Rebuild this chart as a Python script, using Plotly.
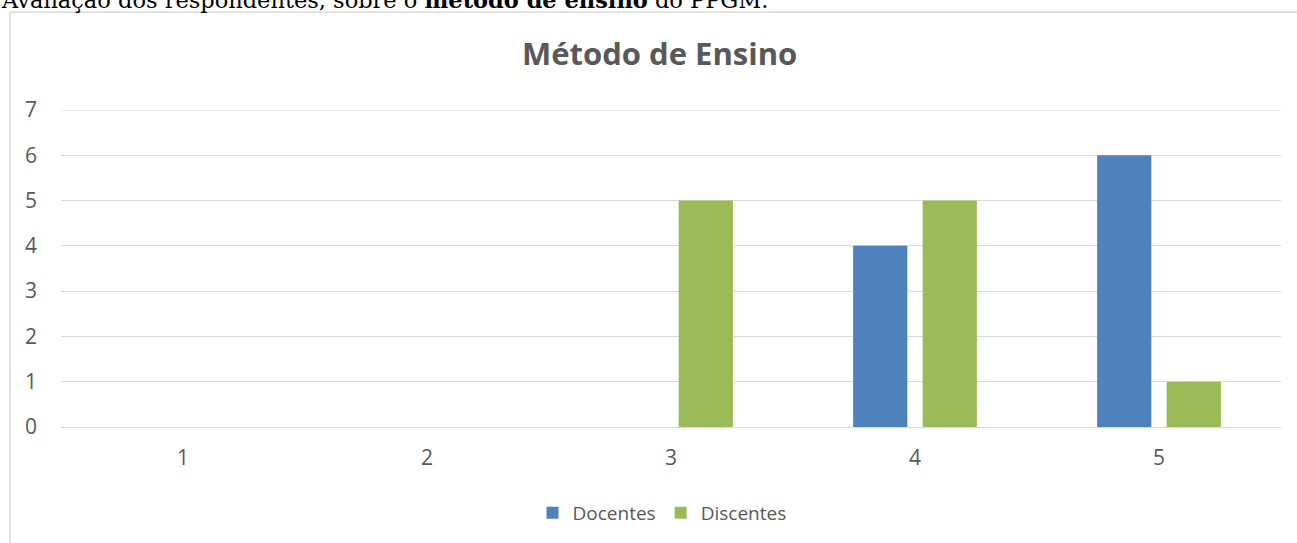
import plotly.graph_objects as go

categories = [1, 2, 3, 4, 5]
docentes = [0, 0, 0, 4, 6]
discentes = [0, 0, 5, 5, 1]
y_ticks = [0, 1, 2, 3, 4, 5, 6, 7]

W, H = 1297, 543
L, R, T, B = 61, 16, 110, 115
pw = W - L - R
ph = H - T - B

def px_x(x):
    return (x - L) / pw

def px_y(y):
    return (H - B - y) / ph

fig = go.Figure()
fig.add_trace(go.Bar(x=categories, y=docentes, name="Docentes", marker_color="#4F81BD",
                     marker_line_width=0))
fig.add_trace(go.Bar(x=categories, y=discentes, name="Discentes", marker_color="#9BBB59",
                     marker_line_width=0))

fig.update_layout(
    width=W, height=H,
    margin=dict(l=L, r=R, t=T, b=B),
    paper_bgcolor="white", plot_bgcolor="white",
    barmode="group", bargap=0.43, bargroupgap=0.22,
    font=dict(family="Open Sans", color="#595959", size=16),
    showlegend=True,
    legend=dict(orientation="h", x=px_x(662), xanchor="center", y=px_y(513), yanchor="middle",
                font=dict(size=19, color="#595959"), itemwidth=30, traceorder="normal"),
    xaxis=dict(tickmode="array", tickvals=categories, ticktext=[str(c) for c in categories],
               range=[0.5, 5.5], showgrid=False, zeroline=False, showline=False,
               ticks="", ticklabelstandoff=16, tickfont=dict(size=21, color="#595959")),
    yaxis=dict(range=[0, 7], tickvals=y_ticks, showgrid=True, gridcolor="#D9D9D9",
               gridwidth=1, zeroline=True, zerolinecolor="#D9D9D9", zerolinewidth=1,
               ticks="", ticklabelstandoff=23, tickfont=dict(size=21, color="#595959"),
               showline=False),
    shapes=[
        dict(type="rect", xref="paper", yref="paper",
             x0=px_x(10), x1=px_x(1310), y0=px_y(560), y1=px_y(12),
             line=dict(color="#D9D9D9", width=1.5), fillcolor="rgba(0,0,0,0)", layer="below"),
        dict(type="line", xref="paper", yref="y", x0=0, x1=1,
             y0=max(y_ticks), y1=max(y_ticks), line=dict(color="#D9D9D9", width=1), layer="below"),
    ],
    annotations=[
        dict(text="<b>Método de Ensino</b>", xref="paper", yref="paper",
             x=px_x(659), y=px_y(53), xanchor="center", yanchor="middle", showarrow=False,
             font=dict(size=31, color="#595959", family="Open Sans")),
        dict(text="Avaliação dos respondentes, sobre o <b>método de ensino</b> do PPGM.",
             xref="paper", yref="paper", x=px_x(-1), y=px_y(-0.5), xanchor="left", yanchor="middle",
             showarrow=False, font=dict(size=22.5, color="#000000", family="DejaVu Serif")),
    ],
)

fig.write_html("out.html", config={"displayModeBar": False},
               post_script="document.body.style.margin='0';document.body.style.overflow='hidden';")
